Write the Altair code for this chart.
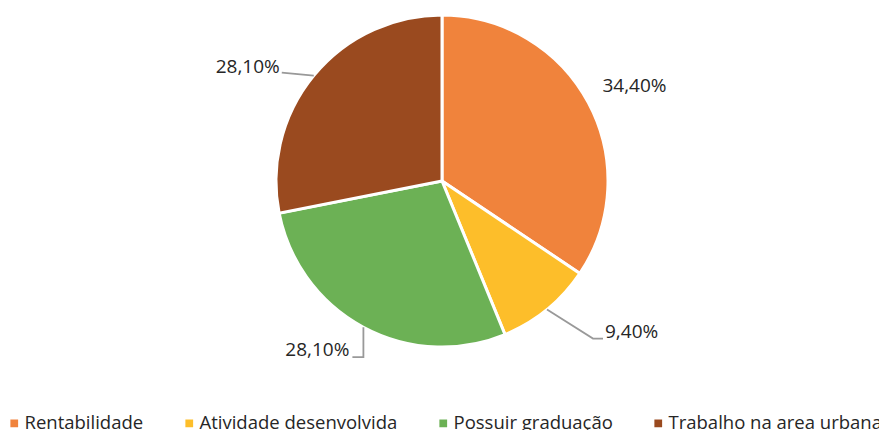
import altair as alt
import pandas as pd
import numpy as np

categories = ["Rentabilidade", "Atividade desenvolvida", "Possuir graduação", "Trabalho na area urbana"]
values = [34.4, 9.4, 28.1, 28.1]
labels = ["34,40%", "9,40%", "28,10%", "28,10%"]
colors = ["#F0833C", "#FDBE2A", "#6CB155", "#9A4A1F"]

# geometry (view coordinates)
CX, CY, R = 434, 173, 166
W, H = 871, 422

df = pd.DataFrame({"cat": categories, "val": values, "idx": list(range(len(values))), "label": labels})

total = float(sum(values))
cum = np.concatenate([[0.0], np.cumsum(values)])
mid = [(cum[i] + values[i] / 2) / total * 2 * np.pi for i in range(len(values))]
edge = [(CX + R * np.sin(a), CY - R * np.cos(a)) for a in mid]

# label layout: leader path offsets and text anchor offsets from the slice edge point
layout = [
    dict(path=[], text=(46, -17), align="center"),
    dict(path=[(46, 29), (56, 29)], text=(58, 22), align="left"),
    dict(path=[(0, 30), (-11, 30)], text=(-14, 23), align="right"),
    dict(path=[(-32, -3)], text=(-34, -9), align="right"),
]

line_rows = []
text_rows = []
for i, (ex, ey) in enumerate(edge):
    lay = layout[i]
    if lay["path"]:
        pts = [(0, 0)] + lay["path"]
        for k, (dx, dy) in enumerate(pts):
            line_rows.append({"slice": i, "step": k, "x": ex + dx, "y": ey + dy})
    text_rows.append({"slice": i, "label": labels[i], "x": ex + lay["text"][0],
                      "y": ey + lay["text"][1], "align": lay["align"]})

lines_df = pd.DataFrame(line_rows)
text_df = pd.DataFrame(text_rows)

pie = alt.Chart(df).mark_arc(outerRadius=R, stroke="white", strokeWidth=3).encode(
    theta=alt.Theta("val:Q", stack=True),
    color=alt.Color(
        "cat:N",
        scale=alt.Scale(domain=categories, range=colors),
        legend=alt.Legend(
            title=None, orient="none", legendX=-3, legendY=406, direction="horizontal",
            symbolType="square", symbolSize=60, symbolStrokeWidth=0,
            labelFont="Open Sans", labelFontSize=18.5, labelColor="#262626",
            columnPadding=36, labelOffset=1, labelLimit=400,
        ),
    ),
    order=alt.Order("idx:Q"),
    x=alt.value(CX),
    y=alt.value(CY),
)

leaders = alt.Chart(lines_df).mark_line(color="#999999", strokeWidth=1.8).encode(
    x=alt.X("x:Q", scale=None),
    y=alt.Y("y:Q", scale=None),
    detail="slice:N",
    order="step:Q",
)

text_layers = []
for al in ["center", "left", "right"]:
    text_layers.append(
        alt.Chart(text_df).transform_filter(alt.datum.align == al).mark_text(
            align=al, baseline="middle", font="Open Sans", fontSize=19, color="#262626"
        ).encode(
            x=alt.X("x:Q", scale=None),
            y=alt.Y("y:Q", scale=None),
            text="label:N",
        )
    )

chart = alt.layer(pie, leaders, *text_layers).properties(
    width=W, height=H, autosize=alt.AutoSizeParams(type="none"), padding=0, background="white"
).configure_view(stroke=None)

chart.save("out.html", embed_options={"renderer": "svg", "actions": False})
